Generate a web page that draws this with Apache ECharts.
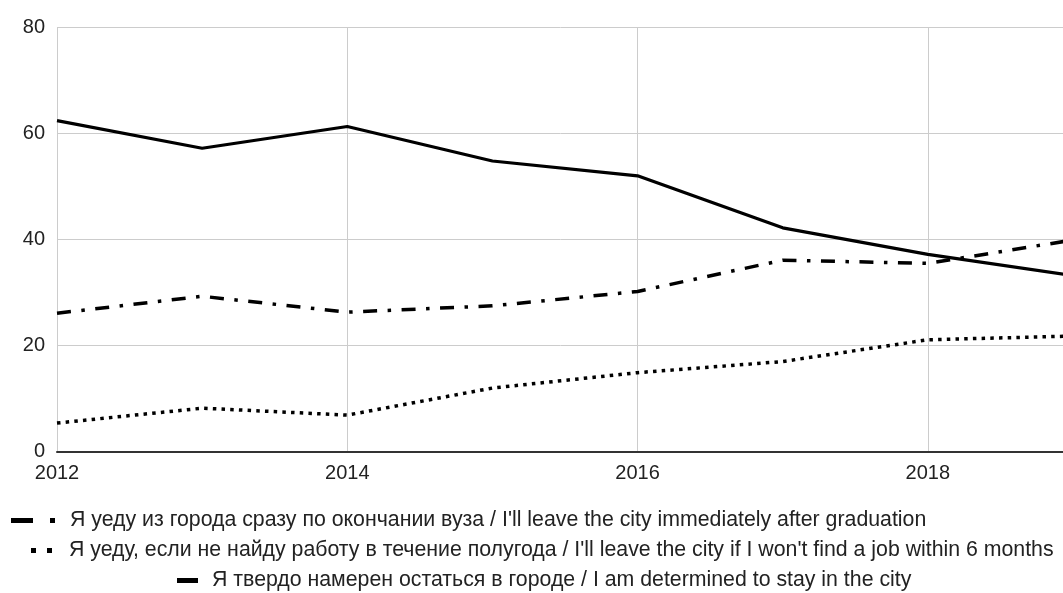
<!DOCTYPE html>
<html>
<head>
<meta charset="utf-8">
<script src="https://cdn.jsdelivr.net/npm/echarts@6/dist/echarts.min.js"></script>
<style>
html,body{margin:0;padding:0;background:#fff;overflow:hidden;}
#chart{width:1063px;height:593px;}
</style>
</head>
<body>
<div id="chart"></div>
<script>
const years = [2012, 2013, 2014, 2015, 2016, 2017, 2018, 2019];
const xTickLabels = ['2012', '2014', '2016', '2018'];
const yTickLabels = ['0', '20', '40', '60', '80'];
const nameLeave = 'Я уеду из города сразу по окончании вуза / I\'ll leave the city immediately after graduation';
const nameNoJob = 'Я уеду, если не найду работу в течение полугода / I\'ll leave the city if I won\'t find a job within 6 months';
const nameStay = 'Я твердо намерен остаться в городе / I am determined to stay in the city';
const leaveValues = [26.1, 29.3, 26.3, 27.5, 30.2, 36.1, 35.5, 39.9];
const noJobValues = [5.4, 8.2, 6.9, 12.0, 14.9, 17.0, 21.1, 21.8];
const stayValues = [62.4, 57.2, 61.3, 54.8, 52.0, 42.2, 37.2, 33.2];

const FONT = '"Liberation Sans", Arial, sans-serif';
const pair = (xs, ys) => xs.map((x, i) => [x, ys[i]]);

const chart = echarts.init(document.getElementById('chart'), null, {renderer: 'canvas'});

function legendFor(name, icon, w, h, left, top, pad) {
  return {
    data: [name], icon: icon, itemWidth: w, itemHeight: h,
    left: left, top: top, padding: 0, selectedMode: false,
    textStyle: {fontFamily: FONT, fontSize: 21.3, color: '#222', padding: [0, 0, 0, pad]}
  };
}

chart.setOption({
  animation: false,
  backgroundColor: '#fff',
  grid: {left: 57, width: 1016, top: 27.3, bottom: 141.3, containLabel: false, outerBoundsMode: 'none'},
  legend: [
    legendFor(nameLeave, 'path://M0,0H22V5H0Z M39,0H44V5H39Z', 44, 5, 11, 510, 10),
    legendFor(nameNoJob, 'path://M0,0H5V5H0Z M16,0H21V5H16Z', 21, 5, 31, 540, 12),
    legendFor(nameStay, 'path://M0,0H21V5H0Z', 21, 5, 177, 570, 9)
  ],
  xAxis: {
    type: 'value', min: years[0], max: years[years.length - 1], interval: 2,
    axisLine: {show: true, lineStyle: {color: '#333', width: 2}},
    axisTick: {show: false},
    axisLabel: {
      fontFamily: FONT, fontSize: 20, color: '#222', margin: 12,
      showMaxLabel: false,
      formatter: v => xTickLabels.indexOf(String(v)) >= 0 ? String(v) : ''
    },
    splitLine: {show: true, lineStyle: {color: '#ccc', width: 1}}
  },
  yAxis: {
    type: 'value', min: 0, max: 80, interval: 20,
    axisLine: {show: false}, axisTick: {show: false},
    axisLabel: {
      fontFamily: FONT, fontSize: 20, color: '#222', margin: 12,
      formatter: v => yTickLabels.indexOf(String(v)) >= 0 ? String(v) : ''
    },
    splitLine: {show: true, lineStyle: {color: '#ccc', width: 1}}
  },
  series: [
    {name: nameLeave, type: 'line', symbol: 'none', data: pair(years, leaveValues),
     lineStyle: {color: '#000', width: 3.5, type: [14, 10.5, 3.5, 10.5], cap: 'butt'}, itemStyle: {color: '#000'}},
    {name: nameNoJob, type: 'line', symbol: 'none', data: pair(years, noJobValues),
     lineStyle: {color: '#000', width: 3.5, type: [3.5, 5.2], cap: 'butt'}, itemStyle: {color: '#000'}},
    {name: nameStay, type: 'line', symbol: 'none', data: pair(years, stayValues),
     lineStyle: {color: '#000', width: 3.2, type: 'solid'}, itemStyle: {color: '#000'}}
  ]
});
</script>
</body>
</html>
